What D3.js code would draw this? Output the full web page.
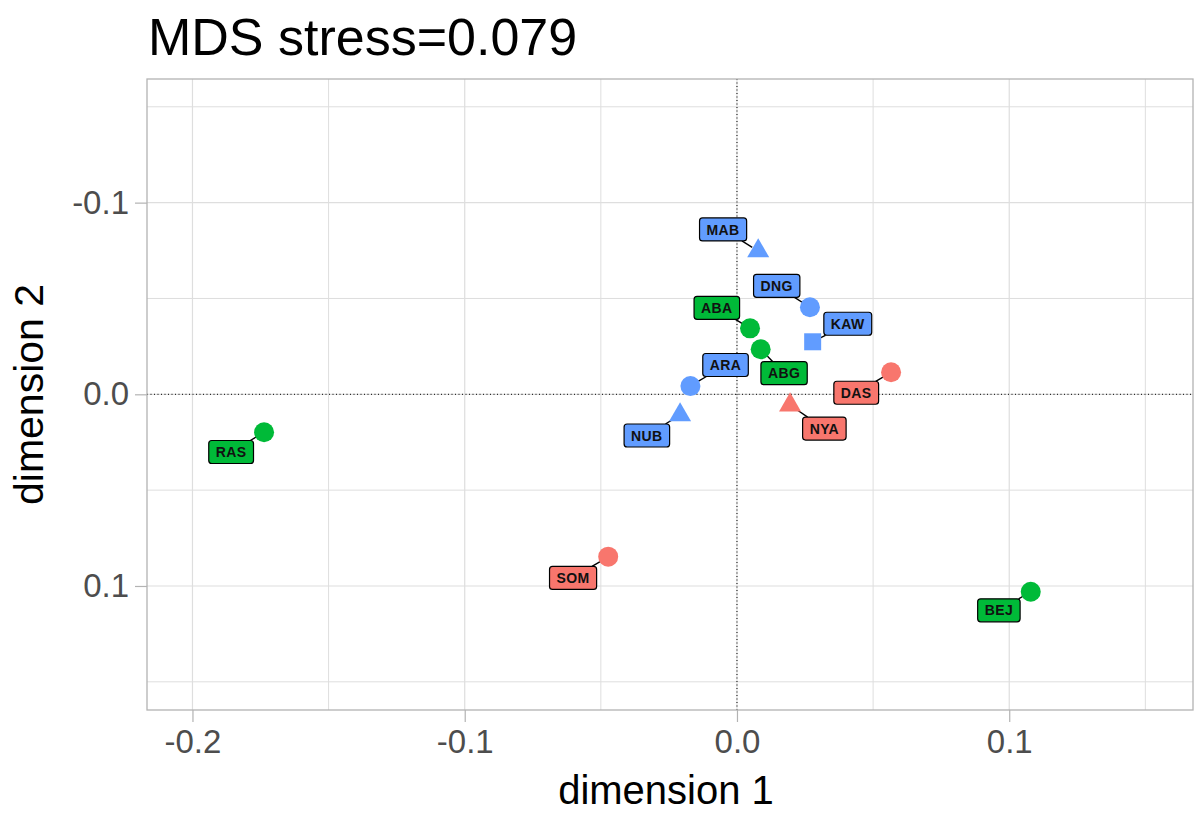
<!DOCTYPE html>
<html>
<head>
<meta charset="utf-8">
<script src="https://cdn.jsdelivr.net/npm/d3@7"></script>
<style>
  html, body { margin: 0; padding: 0; background: #fff; }
  text { font-family: "Liberation Sans", Arial, sans-serif; }
</style>
</head>
<body>
<svg id="chart" width="1195" height="813"></svg>
<script>
// ---- data ----
const codes  = ["RAS", "SOM", "BEJ", "NUB", "ARA", "ABA", "ABG", "MAB", "DNG", "KAW", "DAS", "NYA"];
const dim1   = [-0.1737, -0.0473, 0.1079, -0.0209, -0.0171, 0.0048, 0.0087, 0.0078, 0.0268, 0.0278, 0.0566, 0.0195];
const dim2   = [0.0198, 0.0847, 0.1030, 0.0108, -0.0043, -0.0344, -0.0235, -0.0748, -0.0454, -0.0274, -0.0115, 0.0056];
const groups = ["green", "red", "green", "blue", "blue", "green", "green", "blue", "blue", "blue", "red", "red"];
const shapes = ["circle", "circle", "circle", "triangle", "circle", "circle", "circle", "triangle", "circle", "square", "circle", "triangle"];
// repelled label positions (data units, as placed by the repel layout)
const labelX = [-0.1858, -0.0602, 0.0962, -0.0331, -0.0042, -0.0074, 0.0173, -0.0051, 0.0146, 0.0407, 0.0438, 0.0321];
const labelY = [0.0301, 0.0958, 0.1127, 0.0215, -0.0153, -0.0451, -0.0110, -0.0860, -0.0566, -0.0368, -0.0008, 0.0179];
const xTicks = [-0.2, -0.1, 0.0, 0.1];
const yTicks = [-0.1, 0.0, 0.1];
const xMinor = [-0.15, -0.05, 0.05, 0.15];
const yMinor = [-0.15, -0.05, 0.05, 0.15];
const title = "MDS stress=0.079";

const groupColor = { red: "#F8766D", green: "#00BA38", blue: "#619CFF" };

const data = codes.map((c, i) => ({
  code: c, x: dim1[i], y: dim2[i], group: groups[i], shape: shapes[i], lx: labelX[i], ly: labelY[i]
}));

// ---- layout ----
const svg = d3.select("#chart");
const panel = { left: 147, right: 1193, top: 79, bottom: 710 };

const x = d3.scaleLinear().domain([-0.2167, 0.1675]).range([panel.left, panel.right]);
const y = d3.scaleLinear().domain([-0.1645, 0.1647]).range([panel.top, panel.bottom]);

const grid = svg.append("g");
grid.selectAll(".vx").data(xTicks.concat(xMinor).filter(v => x(v) > panel.left && x(v) < panel.right))
  .enter().append("line")
  .attr("x1", d => x(d)).attr("x2", d => x(d))
  .attr("y1", panel.top).attr("y2", panel.bottom)
  .attr("stroke", "#dedede").attr("stroke-width", d => xTicks.includes(d) ? 1.2 : 1);
grid.selectAll(".hy").data(yTicks.concat(yMinor).filter(v => y(v) > panel.top && y(v) < panel.bottom))
  .enter().append("line")
  .attr("y1", d => y(d)).attr("y2", d => y(d))
  .attr("x1", panel.left).attr("x2", panel.right)
  .attr("stroke", "#dedede").attr("stroke-width", d => yTicks.includes(d) ? 1.2 : 1);

// zero reference lines (dotted)
svg.append("line")
  .attr("x1", x(0)).attr("x2", x(0)).attr("y1", panel.top).attr("y2", panel.bottom)
  .attr("stroke", "#000").attr("stroke-width", 1).attr("stroke-dasharray", "1,2.5");
svg.append("line")
  .attr("y1", y(0)).attr("y2", y(0)).attr("x1", panel.left).attr("x2", panel.right)
  .attr("stroke", "#000").attr("stroke-width", 1).attr("stroke-dasharray", "1,2.5");

// panel border
svg.append("rect")
  .attr("x", panel.left).attr("y", panel.top)
  .attr("width", panel.right - panel.left).attr("height", panel.bottom - panel.top)
  .attr("fill", "none").attr("stroke", "#b3b3b3").attr("stroke-width", 1.3);

// axes
const xAxis = d3.axisBottom(x).tickValues(xTicks).tickFormat(d3.format(".1f")).tickSize(12).tickPadding(6);
const gx = svg.append("g").attr("transform", `translate(0,${panel.bottom})`).call(xAxis);
const yAxis = d3.axisLeft(y).tickValues(yTicks).tickFormat(d3.format(".1f")).tickSize(12).tickPadding(6);
const gy = svg.append("g").attr("transform", `translate(${panel.left},0)`).call(yAxis);
[gx, gy].forEach(g => {
  g.select(".domain").remove();
  g.selectAll(".tick line").attr("stroke", "#b3b3b3").attr("stroke-width", 1.2);
  g.selectAll(".tick text").attr("fill", "#4d4d4d").style("font-size", "33px")
    .style("font-family", "'Liberation Sans', Arial, sans-serif")
    .text(d => d3.format(".1f")(d).replace("−", "-"));
});
gx.selectAll(".tick text").attr("dy", "0.75em");

// titles
svg.append("text").attr("x", 148).attr("y", 55).attr("font-size", 52).attr("fill", "#000").text(title);
svg.append("text").attr("x", 666).attr("y", 804).attr("text-anchor", "middle")
  .attr("font-size", 40).attr("fill", "#000").text("dimension 1");
svg.append("text").attr("transform", `translate(43,${(panel.top + panel.bottom) / 2}) rotate(-90)`)
  .attr("text-anchor", "middle").attr("font-size", 41).attr("fill", "#000").text("dimension 2");

// ---- labels & segments ----
const labelLayer = svg.append("g");
const segLayer = labelLayer.append("g");
const boxLayer = labelLayer.append("g");
const pointLayer = svg.append("g");

const boxH = 23;
data.forEach(d => {
  const cx = x(d.lx), cy = y(d.ly);
  const g = boxLayer.append("g");
  const t = g.append("text")
    .attr("x", cx).attr("y", cy).attr("dy", "0.36em")
    .attr("text-anchor", "middle")
    .attr("font-size", 14).attr("font-weight", "bold").attr("fill", "#111")
    .attr("letter-spacing", "0.4px")
    .text(d.code);
  const w = t.node().getComputedTextLength() + 14;
  g.insert("rect", "text")
    .attr("x", cx - w / 2).attr("y", cy - boxH / 2)
    .attr("width", w).attr("height", boxH)
    .attr("rx", 3).attr("ry", 3)
    .attr("fill", groupColor[d.group])
    .attr("stroke", "#000").attr("stroke-width", 1.2);

  // segment from box boundary to point boundary
  const px = x(d.x), py = y(d.y);
  const dx = px - cx, dy = py - cy;
  const tx = dx !== 0 ? (w / 2) / Math.abs(dx) : Infinity;
  const ty = dy !== 0 ? (boxH / 2) / Math.abs(dy) : Infinity;
  const t0 = Math.min(tx, ty);
  const sx = cx + dx * t0, sy = cy + dy * t0;
  const len = Math.hypot(px - sx, py - sy);
  const pad = 7;
  if (len > pad + 1) {
    const ex = px - (px - sx) / len * pad, ey = py - (py - sy) / len * pad;
    segLayer.append("line")
      .attr("x1", sx).attr("y1", sy).attr("x2", ex).attr("y2", ey)
      .attr("stroke", "#000").attr("stroke-width", 1.4);
  }
});

// ---- points ----
const symType = { circle: d3.symbolCircle, triangle: d3.symbolTriangle, square: d3.symbolSquare };
const symSize = { circle: Math.PI * 10 * 10, triangle: 210, square: 17 * 17 };
pointLayer.selectAll("path").data(data).enter().append("path")
  .attr("transform", d => `translate(${x(d.x)},${y(d.y)})`)
  .attr("d", d => d3.symbol().type(symType[d.shape]).size(symSize[d.shape])())
  .attr("fill", d => groupColor[d.group]);
</script>
</body>
</html>
